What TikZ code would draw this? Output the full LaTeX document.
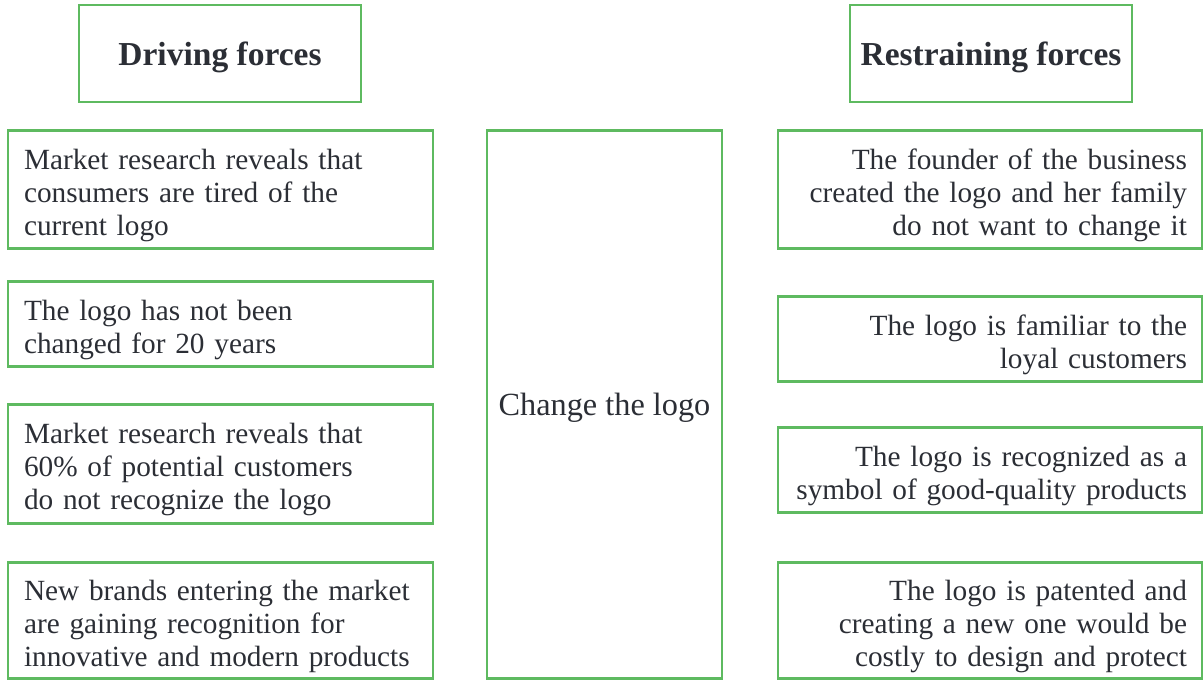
\documentclass[tikz,border=0pt]{standalone}
\usepackage{fontspec}
\setmainfont{Liberation Serif}
\definecolor{boxgreen}{RGB}{94,186,96}
\definecolor{ink}{RGB}{43,46,53}
\tikzset{
  forcebox/.style={draw=boxgreen, line width=2.4pt, minimum width=425pt, inner xsep=16pt, inner ysep=0pt,
    text=ink, font=\fontsize{29.3}{33}\selectfont},
  leftbox/.style={forcebox, text width=393pt, align=left},
  rightbox/.style={forcebox, minimum width=424pt, inner xsep=15pt, text width=394pt, align=right},
  headbox/.style={draw=boxgreen, line width=2.4pt, minimum width=282pt, minimum height=97pt,
    text depth=0pt, text=ink, font=\fontsize{33.5}{36}\selectfont\bfseries},
  centrebox/.style={draw=boxgreen, line width=2.4pt, minimum width=235pt, minimum height=548pt,
    text depth=0pt, text=ink, font=\fontsize{32.3}{33}\selectfont}
}
% a tall invisible strut that lowers a block of lines a little
\newcommand{\topstrut}{\rule{0pt}{32pt}}
\begin{document}
\begin{tikzpicture}[x=1pt,y=-1pt]
\useasboundingbox (0,0) rectangle (1203,681);
% column headings
\node[headbox] (hdrL) at (220,53.5) {Driving forces};
\node[headbox] (hdrR) at (991,53.5) {Restraining forces};
% driving forces
\node[leftbox, minimum height=118pt] (L1) at (220.5,189.5) {\topstrut Market research reveals that\\consumers are tired of the\\current logo};
\node[leftbox, minimum height=85pt] (L2) at (220.5,324) {\topstrut The logo has not been\\changed for 20 years};
\node[leftbox, minimum height=119pt] (L3) at (220.5,464) {\topstrut Market research reveals that\\60\% of potential customers\\do not recognize the logo};
\node[leftbox, minimum height=116pt] (L4) at (220.5,620.5) {\topstrut New brands entering the market\\are gaining recognition for\\innovative and modern products};
% proposed change
\node[centrebox] (C) at (604.5,404.5) {Change the logo};
% restraining forces
\node[rightbox, minimum height=118pt] (R1) at (990,189.5) {\topstrut The founder of the business\\created the logo and her family\\do not want to change it};
\node[rightbox, minimum height=85pt] (R2) at (990,339) {\topstrut The logo is familiar to the\\loyal customers};
\node[rightbox, minimum height=85pt] (R3) at (990,470) {\topstrut The logo is recognized as a\\symbol of good-quality products};
\node[rightbox, minimum height=116pt] (R4) at (990,620.5) {\topstrut The logo is patented and\\creating a new one would be\\costly to design and protect};
\end{tikzpicture}
\end{document}
